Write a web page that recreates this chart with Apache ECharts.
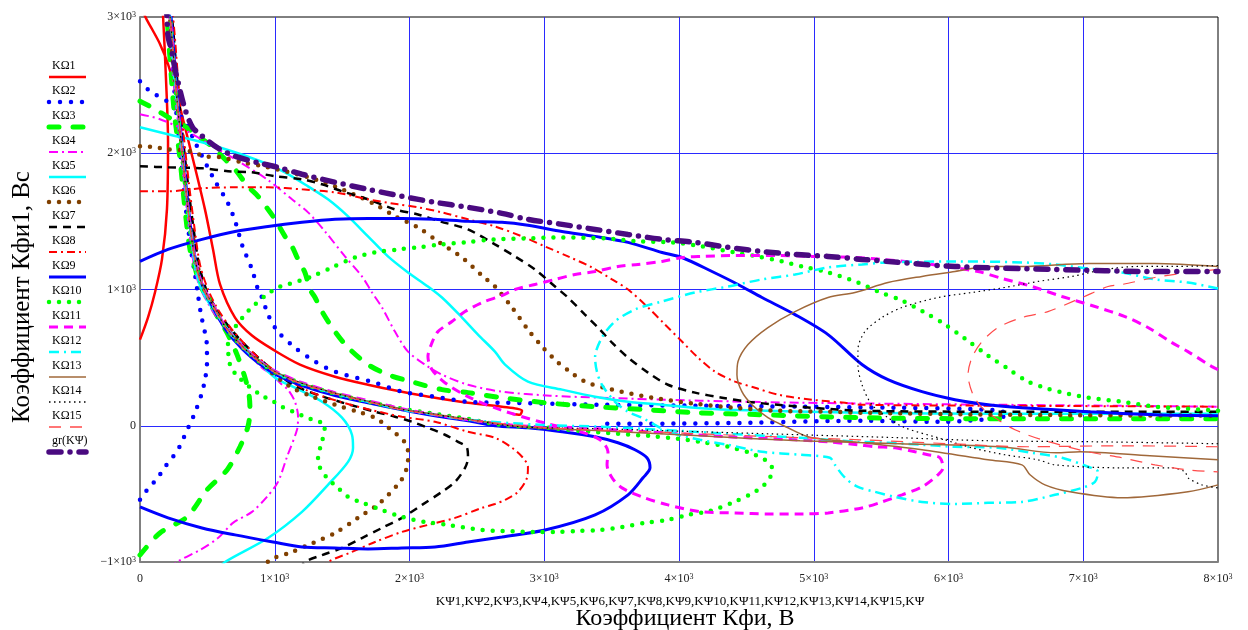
<!DOCTYPE html>
<html>
<head>
<meta charset="utf-8">
<script src="https://cdn.jsdelivr.net/npm/echarts@6/dist/echarts.min.js"></script>
<style>html,body{margin:0;padding:0;background:#fff}#c{width:1248px;height:630px}</style>
</head>
<body>
<div id="c"></div>
<script>
// ---- data ----
const names = ['KΩ1','KΩ2','KΩ3','KΩ4','KΩ5','KΩ6','KΩ7','KΩ8','KΩ9','KΩ10','KΩ11','KΩ12','KΩ13','KΩ14','KΩ15','gr(KΨ)'];
const xTickLabels = ['0','1×10^3','2×10^3','3×10^3','4×10^3','5×10^3','6×10^3','7×10^3','8×10^3'];
const yTickLabels = ['−1×10^3','0','1×10^3','2×10^3','3×10^3'];

const k1 = [[0,632],[59,794],[111,978],[163,1221],[200,1588],[208,2081],[193,2544],[171,3007],[163,3095], null,
[15,3095],[37,3007],[89,2912],[148,2802],[208,2654],[260,2471],[319,2250],[393,1956],[482,1588],[542,1294],[594,1037],[705,794],[831,662],[987,559],[1187,449],[1447,360],[1692,301],[1944,250],[2189,206],[2434,169],[2686,140],[2835,110],[2820,81],[2760,88]];

const k2 = [[0,2529],[74,2456],[208,2375],[334,2228],[423,2051],[560,1790],[650,1640],[710,1490],[760,1320],[830,1150],[876,1000],[905,941],[957,801],[1024,691],[1150,574],[1299,471],[1447,397],[1744,316],[1944,250],[2189,213],[2434,176],[2686,169],[3414,154],[4156,147],[4898,140],[5640,132],[6085,125],[6382,110],[6441,81],[6308,51],[5937,29],[5343,37],[4527,22],[3785,15],[3414,15], null,
[0,-544],[59,-463],[126,-390],[186,-301],[245,-228],[297,-147],[334,-66],[371,15],[408,96],[460,243],[482,338],[497,449],[497,581],[482,684],[453,816],[430,963],[408,1110],[378,1294],[341,1588],[304,1956],[267,2324],[237,2691],[215,3007],[208,3095]];

const k3 = [[0,2382],[111,2324],[208,2265],[312,2213],[430,2125],[534,2051],[631,1956],[705,1882],[801,1757],[876,1684],[950,1588],[1002,1515],[1076,1390],[1128,1316],[1173,1221],[1224,1125],[1262,1000],[1299,941],[1351,838],[1447,691],[1544,574],[1692,449],[1840,375],[2041,316],[2241,265],[2434,243],[2686,206],[3006,169],[3377,140],[3748,118],[4119,96],[4616,81],[5358,59],[6382,51],[8000,51], null,
[0,-949],[148,-787],[349,-669],[497,-471],[646,-324],[742,-154],[801,-7],[816,118],[809,228],[779,353],[720,522],[653,669],[579,794],[505,926],[445,1037],[408,1162],[371,1294],[334,1588],[297,1956],[252,2324],[223,2691],[200,3007],[193,3095]];

const k4 = [[0,2287],[148,2250],[349,2162],[542,2051],[742,1934],[942,1809],[1128,1662],[1247,1566],[1373,1426],[1521,1243],[1647,1096],[1722,978],[1796,868],[1892,691],[1989,544],[2115,449],[2241,375],[2434,301],[2686,250],[3043,221],[3414,206],[4156,184],[4898,169],[6382,154],[8000,140], null,
[223,-1059],[275,-1000],[445,-912],[579,-824],[690,-713],[831,-632],[942,-522],[1024,-412],[1091,-228],[1165,-29],[1173,66],[1150,176],[1098,265],[1054,301],[980,375],[905,426],[779,559],[668,684],[557,816],[482,941],[430,1059],[393,1221],[356,1515],[312,1919],[275,2287],[237,2654],[215,3007],[208,3095]];

const k5 = [[0,2191],[208,2140],[460,2081],[705,2007],[950,1919],[1076,1860],[1247,1757],[1395,1662],[1544,1537],[1692,1390],[1840,1243],[1989,1125],[2137,1022],[2241,941],[2390,794],[2508,669],[2634,544],[2709,449],[2879,324],[3132,265],[3377,213],[3622,176],[3874,154],[4119,132],[4364,118],[5358,96],[6382,88],[8000,88], null,
[579,-1059],[631,-1000],[950,-824],[1202,-632],[1395,-434],[1544,-265],[1581,-162],[1573,-66],[1499,59],[1351,176],[1150,279],[1002,353],[876,471],[742,618],[609,765],[505,912],[438,1051],[401,1221],[364,1515],[319,1919],[282,2287],[245,2654],[223,3007],[215,3095]];

const k6 = [[0,2051],[111,2044],[208,2029],[371,2015],[482,1978],[594,1971],[757,1934],[950,1897],[1247,1824],[1499,1735],[1744,1625],[1892,1537],[2063,1456],[2211,1353],[2390,1235],[2545,1096],[2634,1022],[2761,868],[2879,706],[2991,574],[3095,471],[3191,397],[3302,324],[3503,265],[3800,206],[4119,162],[4416,132],[4735,110],[5106,103],[5358,96],[6382,81],[8000,74], null,
[905,-1059],[965,-985],[1128,-926],[1284,-860],[1447,-787],[1618,-676],[1781,-566],[1929,-412],[1967,-346],[1989,-265],[1989,-191],[1967,-125],[1929,-81],[1878,-44],[1818,7],[1744,59],[1618,103],[1447,154],[1262,221],[1113,287],[950,412],[801,544],[668,691],[557,853],[482,985],[430,1162],[386,1441],[349,1735],[312,2029],[275,2397],[237,2765],[223,3007]];

const k7 = [[0,1904],[208,1897],[460,1890],[653,1868],[831,1860],[1002,1831],[1202,1809],[1351,1772],[1499,1721],[1692,1662],[1892,1588],[2063,1551],[2226,1500],[2434,1441],[2634,1331],[2783,1243],[2931,1147],[3080,1022],[3176,941],[3302,816],[3399,721],[3503,610],[3622,500],[3770,390],[3918,301],[4119,243],[4319,206],[4512,176],[4735,154],[4987,132],[5358,110],[6382,103],[8000,103], null,
[1187,-1059],[1224,-1000],[1351,-949],[1499,-897],[1647,-824],[1796,-750],[1944,-676],[2093,-581],[2241,-485],[2338,-412],[2412,-309],[2434,-235],[2427,-162],[2360,-118],[2263,-66],[2137,-15],[2019,29],[1892,66],[1744,103],[1558,154],[1336,221],[1150,294],[980,412],[831,544],[690,691],[579,838],[497,985],[438,1184],[393,1478],[356,1772],[319,2103],[282,2471],[252,2838],[237,3007]];

const k8 = [[0,1721],[208,1721],[460,1743],[705,1750],[950,1750],[1202,1735],[1447,1713],[1692,1662],[1915,1625],[2063,1603],[2241,1566],[2434,1515],[2634,1463],[2835,1390],[3006,1316],[3176,1243],[3354,1162],[3503,1074],[3622,1000],[3770,868],[3896,743],[4022,618],[4141,500],[4267,397],[4416,324],[4564,279],[4735,228],[4987,191],[5232,169],[5358,154],[6382,147],[8000,140], null,
[1351,-1059],[1395,-1000],[1573,-926],[1744,-853],[1944,-779],[2137,-728],[2338,-676],[2538,-603],[2634,-574],[2709,-544],[2805,-485],[2872,-382],[2879,-301],[2842,-235],[2761,-162],[2634,-88],[2434,-44],[2189,29],[1944,66],[1707,118],[1484,176],[1262,250],[1098,338],[950,441],[816,559],[683,706],[579,853],[505,1000],[445,1184],[401,1478],[364,1772],[327,2103],[289,2471],[260,2838],[245,3007]];

const k9 = [[0,1206],[208,1294],[460,1368],[705,1426],[950,1463],[1202,1493],[1447,1515],[1692,1522],[1944,1522],[2189,1515],[2434,1500],[2686,1493],[2879,1471],[3132,1426],[3377,1390],[3622,1346],[3874,1272],[4022,1235],[4245,1132],[4438,1037],[4616,941],[4861,816],[5106,669],[5358,449],[5551,338],[5803,250],[6048,191],[6293,154],[6545,132],[7035,103],[7532,81],[8000,74], null,
[0,-596],[208,-676],[460,-750],[705,-801],[987,-853],[1202,-890],[1447,-897],[1692,-904],[1944,-897],[2189,-890],[2434,-853],[2686,-816],[3006,-765],[3377,-654],[3622,-507],[3733,-382],[3785,-309],[3762,-235],[3673,-176],[3547,-125],[3377,-81],[3132,-44],[2879,-15],[2634,0],[2434,37],[2189,74],[1944,118],[1692,169],[1447,221],[1202,294],[1024,368],[905,441],[757,566],[631,713],[534,882],[475,1000],[430,1132],[393,1331],[356,1625],[319,1993],[282,2360],[252,2728],[230,3007]];

const k10 = [[8000,110],[7777,125],[7532,140],[7287,176],[7035,206],[6887,235],[6738,272],[6590,324],[6441,419],[6293,515],[6122,640],[5974,743],[5811,838],[5655,919],[5477,985],[5328,1051],[5083,1132],[4913,1169],[4764,1206],[4586,1243],[4416,1272],[4171,1316],[3948,1346],[3696,1353],[3451,1375],[3132,1382],[2879,1375],[2634,1368],[2412,1346],[2241,1331],[2063,1309],[1915,1294],[1744,1272],[1596,1235],[1425,1162],[1276,1096],[1098,1037],[1024,1015],[942,963],[853,890],[779,816],[705,721],[653,610],[668,449],[727,360],[891,228],[980,184],[1054,140],[1135,103],[1224,66],[1299,37],[1373,7],[1351,-118],[1321,-228],[1336,-309],[1388,-382],[1469,-456],[1544,-522],[1633,-559],[1796,-618],[1944,-669],[2115,-706],[2286,-728],[2538,-765],[2686,-772],[2931,-779],[3095,-779],[3250,-772],[3414,-765],[3577,-743],[3748,-713],[3911,-691],[4067,-654],[4230,-625],[4393,-566],[4549,-493],[4616,-449],[4675,-382],[4690,-309],[4638,-250],[4527,-199],[4364,-154],[4156,-118],[3993,-96],[3770,-74],[3540,-59],[3265,-37],[3028,-15],[2672,7],[2434,51],[2189,88],[1944,125],[1692,176],[1447,235],[1202,309],[1024,382],[905,456],[757,581],[631,728],[534,897],[468,1015],[423,1147],[386,1331],[349,1625],[312,1993],[275,2360],[245,2728],[223,3007]];

const k11 = [[8000,412],[7955,434],[7777,544],[7658,610],[7480,721],[7310,801],[7087,875],[6842,949],[6620,1022],[6397,1081],[6219,1132],[5877,1184],[5603,1213],[5306,1235],[4987,1243],[4735,1250],[4416,1250],[4171,1243],[4022,1235],[3874,1206],[3696,1184],[3547,1169],[3377,1132],[3228,1110],[3080,1074],[2931,1037],[2783,1000],[2686,956],[2538,904],[2412,838],[2315,765],[2211,691],[2167,610],[2137,507],[2167,412],[2263,316],[2449,206],[2672,118],[2968,29],[3265,-44],[3414,-103],[3473,-191],[3466,-287],[3503,-382],[3577,-456],[3725,-522],[3918,-581],[4171,-632],[4416,-640],[4660,-647],[4913,-647],[5106,-640],[5358,-603],[5506,-559],[5655,-507],[5803,-449],[5922,-360],[5959,-309],[5937,-235],[5848,-213],[5751,-191],[5603,-162],[5454,-154],[5328,-140],[5106,-118],[4861,-103],[4364,-81],[4007,-59],[3636,-37],[3265,-15],[2820,0],[2434,44],[2189,81],[1944,125],[1692,184],[1447,243],[1202,316],[1024,390],[905,463],[757,588],[631,735],[534,904],[468,1022],[423,1162],[386,1368],[349,1662],[312,2029],[275,2397],[245,2765],[223,3007]];

const k12 = [[8000,1007],[7777,1051],[7532,1074],[7287,1125],[7035,1154],[6790,1184],[6545,1199],[6048,1206],[5551,1199],[5358,1184],[5106,1162],[4861,1110],[4616,1074],[4364,1022],[4119,978],[3874,912],[3673,853],[3525,765],[3428,647],[3377,500],[3391,397],[3428,301],[3525,176],[3622,103],[3725,59],[3822,7],[3918,-44],[4156,-103],[4364,-140],[4616,-191],[4898,-213],[5120,-235],[5157,-287],[5232,-382],[5328,-449],[5454,-485],[5603,-522],[5803,-559],[6048,-574],[6293,-566],[6545,-559],[6790,-507],[6991,-456],[7087,-412],[7109,-338],[7035,-301],[6842,-235],[6620,-199],[6367,-162],[6048,-154],[5803,-140],[5551,-125],[5328,-118],[4898,-88],[4364,-59],[3859,-29],[3414,-7],[2968,7],[2434,44],[2189,81],[1944,118],[1692,176],[1447,235],[1202,309],[1024,382],[905,456],[757,581],[631,728],[534,890],[468,1007],[423,1140],[386,1353],[349,1647],[312,2015],[275,2382],[245,2750],[223,3007]];

const k13 = [[8000,1169],[7532,1191],[7035,1191],[6545,1169],[6293,1169],[6048,1132],[5803,1096],[5551,1051],[5306,978],[5106,941],[4861,838],[4660,721],[4512,596],[4438,471],[4430,375],[4467,250],[4542,154],[4660,59],[4809,-15],[4957,-81],[5106,-103],[5358,-125],[5803,-176],[6293,-250],[6545,-287],[6605,-360],[6716,-434],[6902,-485],[7287,-529],[7777,-485],[8000,-434], null,
[8000,-250],[7495,-221],[6976,-191],[6800,-199],[6382,-154],[5640,-132],[4898,-110],[4156,-74],[3414,-37],[2820,-7],[2434,48],[2189,85],[1944,122],[1692,180],[1447,240],[1202,312],[1024,386],[905,460],[757,585],[631,731],[534,900],[468,1018],[423,1155],[386,1360],[349,1655],[312,2022],[275,2390],[245,2757],[223,3007]];

const k14 = [[8000,1176],[7658,1169],[7406,1169],[7161,1147],[6916,1096],[6664,1059],[6419,1015],[6174,978],[5922,941],[5655,868],[5506,794],[5380,691],[5328,559],[5328,449],[5358,301],[5432,154],[5551,59],[5677,-15],[5922,-88],[6174,-162],[6419,-213],[6664,-250],[6790,-287],[7287,-309],[7658,-309],[7755,-338],[7777,-382],[7881,-434],[8000,-456], null,
[8000,-132],[7124,-118],[6293,-110],[5640,-88],[4898,-66],[4156,-44],[3414,-22],[2820,-7],[2434,46],[2189,83],[1944,120],[1692,178],[1447,238],[1202,311],[1024,384],[905,458],[757,583],[631,730],[534,895],[468,1012],[423,1150],[386,1357],[349,1650],[312,2020],[275,2387],[245,2755],[223,3007]];

const k15 = [[8000,1147],[7777,1125],[7532,1088],[7287,1037],[7184,1022],[6991,941],[6738,838],[6545,794],[6367,721],[6249,618],[6174,500],[6145,375],[6182,228],[6249,132],[6367,44],[6493,-29],[6694,-103],[7035,-191],[7287,-235],[7532,-287],[7777,-324],[8000,-338], null,
[8000,-154],[7272,-147],[6590,-154],[6011,-132],[5343,-103],[4527,-74],[3785,-44],[3043,-15],[2434,42],[2189,79],[1944,116],[1692,174],[1447,233],[1202,306],[1024,379],[905,453],[757,578],[631,725],[534,887],[468,1004],[423,1137],[386,1350],[349,1645],[312,2012],[275,2380],[245,2747],[223,3007]];

const gr = [[195,3100],[200,3007],[208,2860],[237,2743],[260,2618],[282,2522],[334,2324],[390,2190],[445,2140],[575,2040],[700,1980],[880,1930],[1010,1900],[1202,1846],[1447,1787],[1692,1735],[1944,1684],[2189,1640],[2434,1603],[2686,1559],[2879,1515],[3132,1478],[3377,1441],[3622,1404],[3874,1368],[4119,1346],[4364,1309],[4616,1279],[4861,1257],[5106,1243],[5358,1221],[6048,1169],[6790,1147],[7532,1132],[8000,1132]];

const allSeries = [k1,k2,k3,k4,k5,k6,k7,k8,k9,k10,k11,k12,k13,k14,k15,gr];

// ---- styles ----
const colors = ['#ff0000','#0000ff','#00ff00','#ff00ff','#00ffff','#804000','#000000','#ff0000','#0000ff','#00ff00','#ff00ff','#00ffff','#a0683a','#000000','#ff4a4a','#4a0a80'];
const widths = [2.5,4.5,5,2,2.5,4.5,2.5,2,3,4.5,3,2.5,1.5,1.2,1.2,5.5];
const dashes = [null,[0,11],[10,14],[9,4,2,4],null,[0,10],[8,6],[8,4,2,4],null,[0,10],[9,6],[10,5,2,5],null,[1.5,3.5],[12,9],[12,9,0,9]];
const caps = ['butt','round','round','butt','butt','round','butt','butt','butt','round','butt','butt','butt','butt','butt','round'];

const chart = echarts.init(document.getElementById('c'), null, {renderer:'canvas'});

const series = allSeries.map((pts, i) => ({
  name: names[i],
  type: 'line',
  data: pts.map(p => p ? p : ['-','-']),
  showSymbol: false,
  symbol: 'none',
  smooth: 0.3,
  clip: true,
  silent: true,
  connectNulls: false,
  z: 2 + i,
  lineStyle: {color: colors[i], width: widths[i], type: dashes[i] || 'solid', cap: caps[i]}
}));

function tickRich(s) {
  const parts = s.split('^');
  return parts.length > 1 ? '{b|' + parts[0] + '}{s|' + parts[1] + '}' : '{b|' + s + '}';
}
const labelRich = {
  b: {fontSize: 12, fontFamily: 'Liberation Serif', color: '#222'},
  s: {fontSize: 8, fontFamily: 'Liberation Serif', color: '#222', verticalAlign: 'top'}
};

const graphic = [];
names.forEach((n, i) => {
  const ly = 77 + 25 * i;
  graphic.push({type:'text', x: 52, y: ly - 11, silent:true,
    style:{text:n, fill:'#000', fontSize:12, fontFamily:'Liberation Serif', align:'left', verticalAlign:'middle'}});
  graphic.push({type:'line', silent:true, shape:{x1:49, y1:ly, x2:86, y2:ly},
    style:{stroke:colors[i], lineWidth:Math.max(widths[i], 1.5), lineDash:dashes[i] || null, lineCap:caps[i]}});
});
graphic.push({type:'text', x: 22, y: 297, rotation: Math.PI/2, silent:true,
  style:{text:'Коэффициент Кфи1, Вс', fill:'#000', fontSize:25, fontFamily:'Liberation Serif', align:'center', verticalAlign:'middle'}});
graphic.push({type:'text', x: 680, y: 602, silent:true,
  style:{text:'KΨ1,KΨ2,KΨ3,KΨ4,KΨ5,KΨ6,KΨ7,KΨ8,KΨ9,KΨ10,KΨ11,KΨ12,KΨ13,KΨ14,KΨ15,KΨ', fill:'#000', fontSize:13, fontFamily:'Liberation Serif', align:'center', verticalAlign:'middle'}});
graphic.push({type:'text', x: 685, y: 619, silent:true,
  style:{text:'Коэффициент Кфи, В', fill:'#000', fontSize:24, fontFamily:'Liberation Serif', align:'center', verticalAlign:'middle'}});

chart.setOption({
  animation: false,
  backgroundColor: '#fff',
  grid: {left:140, top:17, width:1078, height:545, show:true, borderColor:'#000', borderWidth:1, backgroundColor:'transparent'},
  xAxis: {type:'value', min:0, max:8000, interval:1000,
    axisLine:{show:true, onZero:false, lineStyle:{color:'#808080', width:2}},
    axisTick:{show:false},
    splitLine:{show:true, showMinLine:false, showMaxLine:false, lineStyle:{color:'#2a2aff', width:1}},
    axisLabel:{margin:11, rich: labelRich,
      formatter: v => tickRich(xTickLabels[Math.round(v/1000)])}},
  yAxis: {type:'value', min:-1000, max:3000, interval:1000,
    axisLine:{show:true, onZero:false, lineStyle:{color:'#808080', width:2}},
    axisTick:{show:false},
    splitLine:{show:true, showMinLine:false, showMaxLine:false, lineStyle:{color:'#2a2aff', width:1}},
    axisLabel:{margin:4, rich: labelRich,
      formatter: v => tickRich(yTickLabels[Math.round((v+1000)/1000)])}},
  graphic: graphic,
  series: series
});
</script>
</body>
</html>
